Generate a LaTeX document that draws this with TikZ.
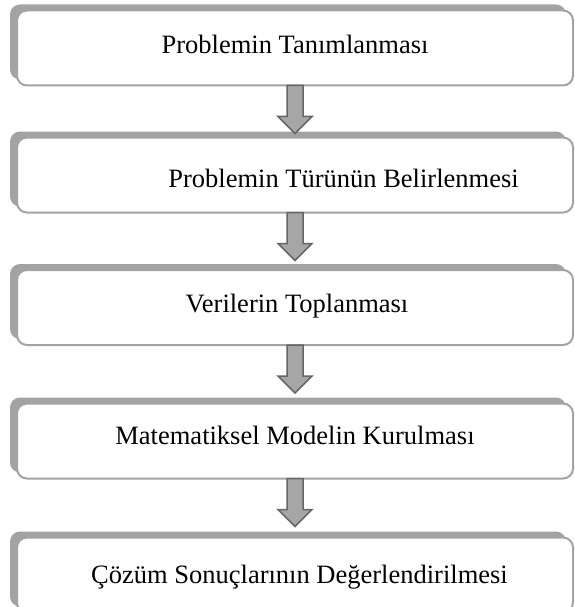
\documentclass[tikz,border=0pt]{standalone}
\usepackage{fontspec}
\setmainfont{Liberation Serif}
\usetikzlibrary{shadows,calc,positioning}
\definecolor{framegray}{HTML}{A3A3A3}
\definecolor{arrowfill}{HTML}{A6A6A6}
\definecolor{arrowline}{HTML}{666666}

\begin{document}
\begin{tikzpicture}[x=1pt,y=1pt]
  \tikzset{
    stepbox/.style={draw=framegray, line width=2pt, fill=white,
      rounded corners=10pt, minimum width=556pt, minimum height=75pt,
      inner sep=0pt,
      drop shadow={shadow xshift=-7pt, shadow yshift=6pt,
        fill=framegray, opacity=1}},
    steptext/.style={anchor=base, inner sep=0pt,
      font=\fontsize{26.5}{30}\selectfont},
    fatarrow/.style={draw=arrowline, fill=arrowfill, line width=1.5pt,
      line join=miter},
  }
  \useasboundingbox (0,0) rectangle (574,-607);

  \node [stepbox] (b1) at (295,-48)    {};
  \node [stepbox] (b2) at (295,-175)   {};
  \node [stepbox] (b3) at (295,-307.5) {};
  \node [stepbox] (b4) at (295,-441)   {};
  \node [stepbox] (b5) at (295,-575)   {};

  \node [steptext] (t1) at ($(b1.center)+(0,-6)$)     {Problemin Tanımlanması};
  \node [steptext] (t2) at ($(b2.center)+(48.5,-12)$) {Problemin Türünün Belirlenmesi};
  \node [steptext] (t3) at ($(b3.center)+(2,-4.5)$)   {Verilerin Toplanması};
  \node [steptext] (t4) at ($(b4.center)+(0,-3)$)     {Matematiksel Modelin Kurulması};
  \node [steptext] (t5) at ($(b5.center)+(4.5,-8)$)   {Çözüm Sonuçlarının Değerlendirilmesi};

  % block arrows between the steps
  \foreach \from in {b1,b2,b3,b4}
    \draw [fatarrow] ($(\from.south)+(-8,1)$) -- ++(0,-31) -- ++(-9,0)
      -- ++(17,-17) -- ++(17,17) -- ++(-9,0) -- ++(0,31) -- cycle;
\end{tikzpicture}
\end{document}
